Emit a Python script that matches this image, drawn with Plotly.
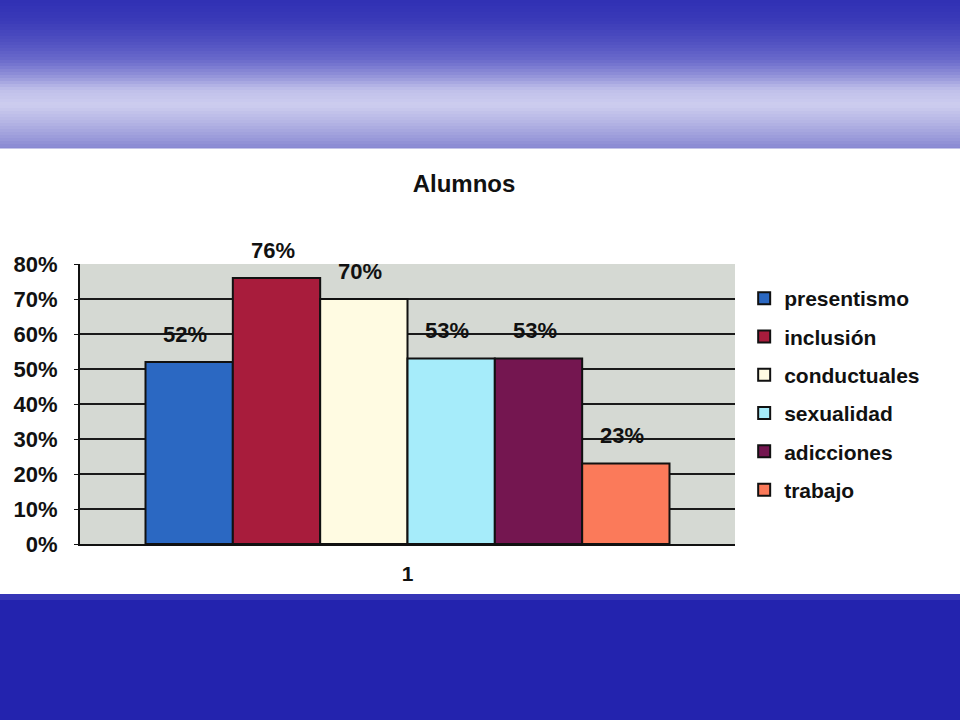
import plotly.graph_objects as go

categories = ["1"]
series_names = ["presentismo", "inclusión", "conductuales", "sexualidad", "adicciones", "trabajo"]
series_values = [52, 76, 70, 53, 53, 23]
series_colors = ["#2b68c2", "#a81c3c", "#fffbe2", "#a6ecfa", "#741650", "#fb7a5a"]
y_ticks = [0, 10, 20, 30, 40, 50, 60, 70, 80]
y_tick_labels = [f"{v}%" for v in y_ticks]

W, H = 960, 720
ML, MR, MT, MB = 80, 225, 264, 176
BARGAP = 0.2
FONT = "Liberation Sans, Arial, sans-serif"

fig = go.Figure()
for name, val, col in zip(series_names, series_values, series_colors):
    fig.add_trace(go.Bar(
        x=categories, y=[val], name=name, legendgroup=name,
        marker=dict(color=col, line=dict(color="#111111", width=2)),
        hoverinfo="skip",
    ))

# data labels above each bar
n = len(series_values)
bw = (1 - BARGAP) / n
for i, val in enumerate(series_values):
    xc = -0.5 + BARGAP / 2 + (i + 0.5) * bw
    fig.add_annotation(x=xc, y=val, xref="x", yref="y", text=f"{val}%",
                       showarrow=False, yanchor="middle", yshift=28, xshift=-4,
                       font=dict(family=FONT, size=22, color="#111111", weight="bold"))

# background bands (decoration)
ph = H - MT - MB
def py2paper(py):
    return (H - MB - py) / ph

def hex2rgb(h):
    h = h.lstrip("#")
    return tuple(int(h[i:i + 2], 16) for i in (0, 2, 4))

stops = [(0, "#3030b4"), (20, "#3a3ab8"), (40, "#4e4ec0"), (60, "#6a6acb"), (75, "#9090d8"),
         (90, "#c0c0ea"), (105, "#cdcdef"), (120, "#b8b8e6"), (135, "#a0a0dc"), (148, "#8888d2")]
XL = -ML / (W - ML - MR) - 0.01
XR = (W - ML) / (W - ML - MR) + 0.01
shapes = []
step = 3
for y0 in range(0, 148, step):
    y1 = min(y0 + step, 148)
    ym = (y0 + y1) / 2
    for (a, ca), (b, cb) in zip(stops[:-1], stops[1:]):
        if a <= ym <= b:
            t = (ym - a) / (b - a)
            ra, rb = hex2rgb(ca), hex2rgb(cb)
            c = tuple(round(ra[k] + (rb[k] - ra[k]) * t) for k in range(3))
            break
    shapes.append(dict(type="rect", xref="paper", yref="paper",
                       x0=XL, x1=XR, y0=py2paper(y1 + 0.5), y1=py2paper(y0 - (1 if y0 == 0 else 0)),
                       fillcolor=f"rgb{c}", line=dict(width=0), layer="below"))
shapes.append(dict(type="rect", xref="paper", yref="paper",
                   x0=XL, x1=XR, y0=py2paper(721), y1=py2paper(594),
                   fillcolor="#2323ae", line=dict(width=0), layer="below"))
shapes.append(dict(type="rect", xref="paper", yref="paper",
                   x0=XL, x1=XR, y0=py2paper(600), y1=py2paper(594),
                   fillcolor="#3535b6", line=dict(width=0), layer="below"))

fig.update_layout(
    width=W, height=H,
    margin=dict(l=ML, r=MR, t=MT, b=MB),
    paper_bgcolor="white",
    plot_bgcolor="#d5d9d3",
    barmode="group", bargap=BARGAP, bargroupgap=0,
    shapes=shapes,
    title=dict(text="Alumnos", x=464 / W, xanchor="center", y=1 - 184 / H, yanchor="middle",
               xref="container", yref="container",
               font=dict(family=FONT, size=24, color="#111111", weight="bold")),
    showlegend=True,
    legend=dict(x=1.014, xanchor="left", y=0.95, yanchor="top",
                font=dict(family=FONT, size=21, color="#111111", weight="bold"),
                bgcolor="rgba(0,0,0,0)", tracegroupgap=8, itemclick=False, itemwidth=30),
    xaxis=dict(type="category", range=[-0.5, 0.5], showline=True, linecolor="#111111", linewidth=2,
               ticks="", tickfont=dict(family=FONT, size=21, color="#111111", weight="bold"),
               ticklabelstandoff=10, showgrid=False),
    yaxis=dict(range=[0, 80], tickvals=y_ticks, ticktext=y_tick_labels,
               showline=True, linecolor="#111111", linewidth=2,
               ticks="outside", ticklen=4, tickcolor="#111111",
               showgrid=True, gridcolor="#1a1a1a", gridwidth=1.5,
               tickfont=dict(family=FONT, size=22, color="#111111", weight="bold"),
               ticklabelstandoff=12, zeroline=False),
)

fig.write_html("out.html", config={"displayModeBar": False},
               post_script="document.body.style.margin='0';document.body.style.overflow='hidden';")
